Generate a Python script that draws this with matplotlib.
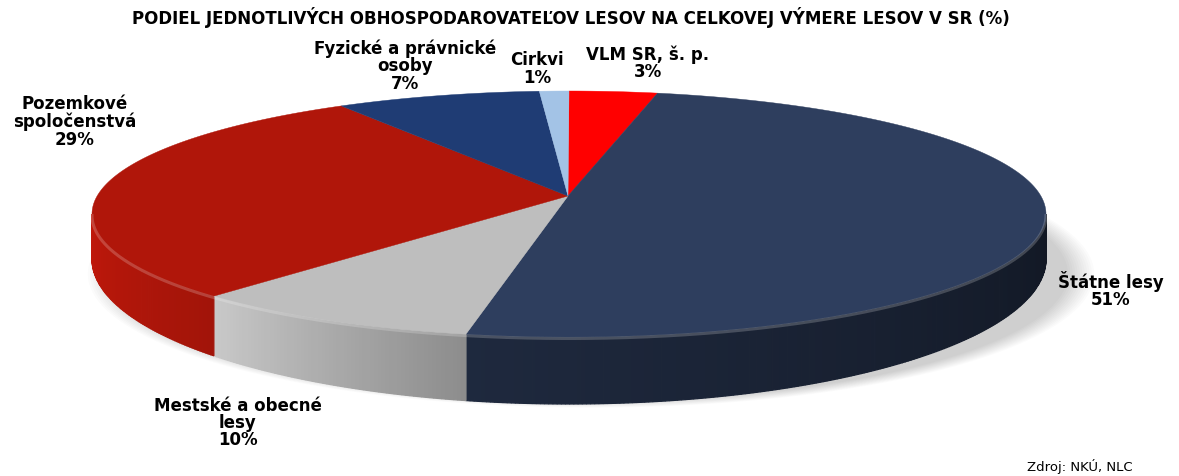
import numpy as np
import matplotlib
matplotlib.use("Agg")
import matplotlib.pyplot as plt
from matplotlib.colors import to_rgb

# Data (share of forest area by manager, %), clockwise from 12 o'clock
categories = ["VLM SR, š. p.", "Štátne lesy", "Mestské a obecné\nlesy",
              "Pozemkové\nspoločenstvá", "Fyzické a právnické\nosoby", "Cirkvi"]
shares = [3, 51, 10, 29, 7, 1]

title = "PODIEL JEDNOTLIVÝCH OBHOSPODAROVATEĽOV LESOV NA CELKOVEJ VÝMERE LESOV V SR (%)"
source = "Zdroj: NKÚ, NLC"

# Styles
top_colors = ["#FF0000", "#2E3E5E", "#BEBEBE", "#B0160A", "#1F3C74", "#A3C3E6"]
side_k = [(0.9, 0.8), (0.66, 0.38), (1.06, 0.74), (1.1, 0.92), (0.7, 0.6), (0.9, 0.8)]
label_pos = [(648, 63), (1111, 290), (238, 423), (75, 122), (405, 66), (537, 69)]

W, H = 1179, 477
cx, cy = 569, 215       # centre of the top ellipse (pixels)
ra, rb = 477, 123       # semi axes
apex = (568, 197)       # where the slices meet (perspective)
d0, d1 = 45, 22         # side depth at the sides / extra at the front


def rim(phi):
    return cx + ra * np.cos(phi), cy - rb * np.sin(phi)


def depth(phi):
    return d0 + d1 * np.clip(-np.sin(phi), 0, None)


fig = plt.figure(figsize=(W / 100, H / 100), dpi=100)
ax = fig.add_axes([0, 0, 1, 1])
ax.set_xlim(0, W)
ax.set_ylim(H, 0)
ax.axis("off")

# soft shadow under the pie, thrown a little to the right
t = np.linspace(0, 2 * np.pi, 300)
for i in range(12):
    s = 1 + i * 0.005
    ax.fill(cx + 22 + ra * s * np.cos(t), cy + 60 + rb * s * np.sin(t) * 1.03,
            color="#000000", alpha=0.016, lw=0, zorder=0)

total = sum(shares)
cum = np.concatenate([[0], np.cumsum(shares)]) / total
starts = np.radians(90 - 360 * cum[:-1])
ends = np.radians(90 - 360 * cum[1:])

# side walls (only the front half is visible: phi in [-pi, 0])
for i in range(len(shares)):
    hi = min(starts[i], 0.0)
    lo = max(ends[i], -np.pi)
    if hi <= lo:
        continue
    base = np.array(to_rgb(top_colors[i]))
    k0, k1 = side_k[i]
    n = max(int((hi - lo) / np.radians(0.5)), 2)
    ph = np.linspace(lo, hi, n + 1)
    for j in range(n):
        p1, p2 = ph[j], ph[j + 1]
        f = ((p1 + p2) / 2 - lo) / (hi - lo)   # 0 at left end, 1 at right end
        col = np.clip(base * (k0 + (k1 - k0) * f), 0, 1)
        x1, y1 = rim(p1)
        x2, y2 = rim(p2)
        ax.fill([x1, x2, x2, x1], [y1, y2, y2 + depth(p2), y1 + depth(p1)],
                color=col, lw=0.9, ec=col, zorder=1)

# top face
for i in range(len(shares)):
    ph = np.linspace(starts[i], ends[i], 200)
    x, y = rim(ph)
    ax.fill(np.concatenate([[apex[0]], x]), np.concatenate([[apex[1]], y]),
            color=top_colors[i], lw=0.3, ec=top_colors[i], zorder=2)

# light bevel along the front rim
ph = np.linspace(-np.pi, 0, 300)
x, y = rim(ph)
ax.plot(x, y + 1.5, color="white", alpha=0.2, lw=2.2, zorder=3)

# labels
for i, name in enumerate(categories):
    lx, ly = label_pos[i]
    ax.text(lx, ly, f"{name}\n{shares[i]}%", ha="center", va="center",
            fontsize=12, fontweight="bold", linespacing=0.95, color="black",
            family="DejaVu Sans", zorder=5)

ax.text(571, 18, title, ha="center", va="center", fontsize=12,
        fontweight="bold", family="DejaVu Sans")
ax.text(1080, 467, source, ha="center", va="center", fontsize=9.5,
        family="DejaVu Sans")

fig.savefig("out.png", dpi=100, facecolor="white")
